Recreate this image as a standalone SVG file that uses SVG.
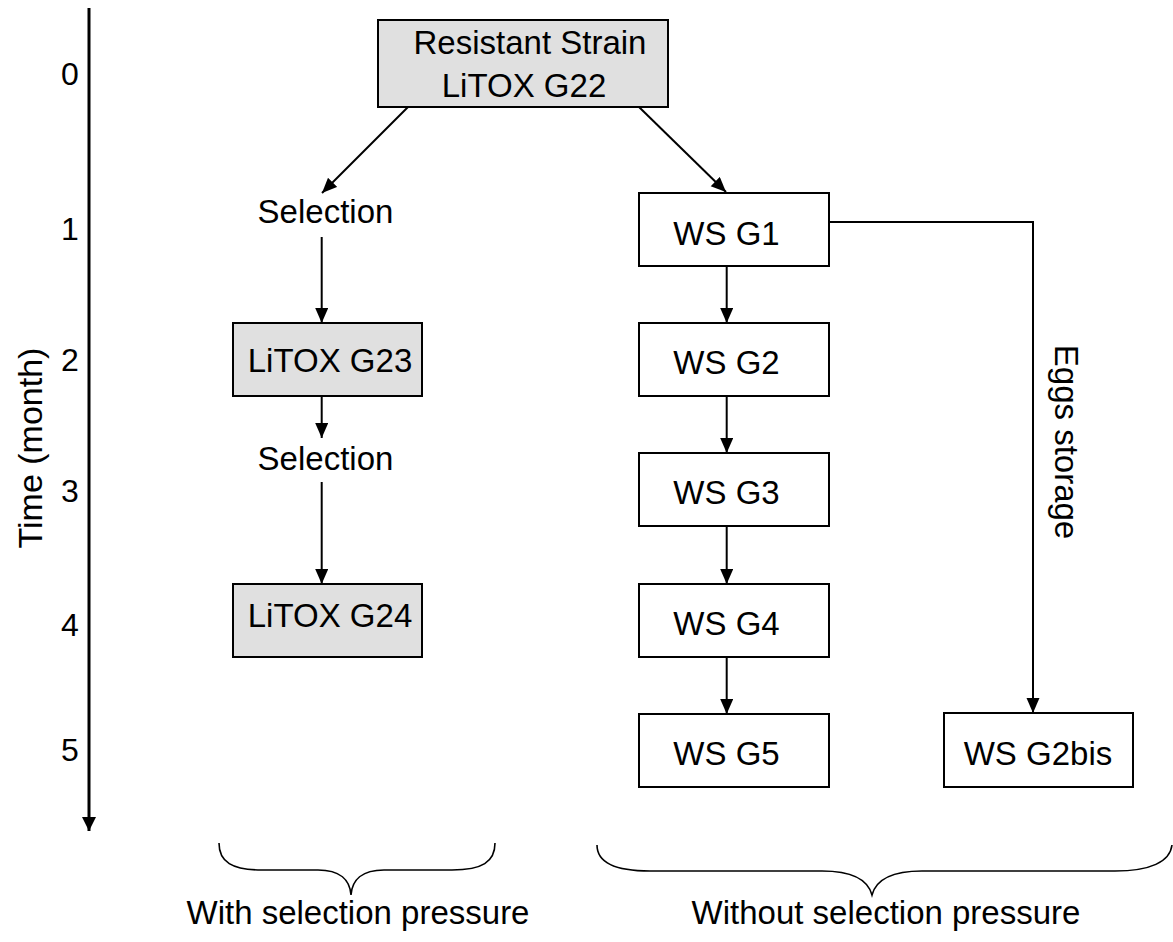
<svg xmlns="http://www.w3.org/2000/svg" width="1173" height="942" viewBox="0 0 1173 942">
<style>
text{font-family:"Liberation Sans",Arial,sans-serif;font-size:33px;fill:#000}
.lbl{text-anchor:middle}
.box{stroke:#000;stroke-width:2;fill:#fff}
.gray{fill:#e0e0e0}
.ln{stroke:#000;stroke-width:2;fill:none}
.num{font-size:32px;text-anchor:middle}
.brace{stroke:#000;stroke-width:1.6;fill:none}
</style>
<defs>
<marker id="ah" markerUnits="userSpaceOnUse" markerWidth="16" markerHeight="14" refX="15" refY="6.5" orient="auto">
<path d="M0,0 L15,6.5 L0,13 z" fill="#000"/>
</marker>
<marker id="axh" markerUnits="userSpaceOnUse" markerWidth="16" markerHeight="16" refX="14" refY="7" orient="auto">
<path d="M0,0 L14,7 L0,14 z" fill="#000"/>
</marker>
</defs>
<rect width="1173" height="942" fill="#fff"/>
<g id="axis">
<line x1="89" y1="8" x2="89" y2="831" stroke="#000" stroke-width="3" marker-end="url(#axh)"/>
<text class="num" x="70" y="85">0</text>
<text class="num" x="70" y="240">1</text>
<text class="num" x="70" y="371">2</text>
<text class="num" x="70" y="502">3</text>
<text class="num" x="70" y="636">4</text>
<text class="num" x="70" y="761">5</text>
<text class="lbl" transform="translate(42,448) rotate(-90)" style="font-size:34px">Time (month)</text>
</g>
<g id="connectors">
<line class="ln" x1="408" y1="107" x2="322" y2="193" marker-end="url(#ah)"/>
<line class="ln" x1="639" y1="107" x2="726" y2="192" marker-end="url(#ah)"/>
<line class="ln" x1="321.7" y1="237" x2="321.7" y2="323" marker-end="url(#ah)"/>
<line class="ln" x1="321.7" y1="396" x2="321.7" y2="438" marker-end="url(#ah)"/>
<line class="ln" x1="321.7" y1="482" x2="321.7" y2="584" marker-end="url(#ah)"/>
<line class="ln" x1="726.7" y1="266" x2="726.7" y2="323" marker-end="url(#ah)"/>
<line class="ln" x1="726.7" y1="396" x2="726.7" y2="453" marker-end="url(#ah)"/>
<line class="ln" x1="726.7" y1="526" x2="726.7" y2="584" marker-end="url(#ah)"/>
<line class="ln" x1="726.7" y1="657" x2="726.7" y2="714" marker-end="url(#ah)"/>
<polyline class="ln" points="829,222 1033,222 1033,713" marker-end="url(#ah)"/>
</g>
<g id="n-g22">
<rect class="box gray" x="378" y="20" width="290" height="87"/>
<text class="lbl" x="530" y="54">Resistant Strain</text>
<text class="lbl" x="524" y="97">LiTOX G22</text>
</g>
<g id="sel1"><text class="lbl" x="325.5" y="223">Selection</text></g>
<g id="n-g23">
<rect class="box gray" x="233" y="323" width="189" height="73"/>
<text class="lbl" x="330" y="372">LiTOX G23</text>
</g>
<g id="sel2"><text class="lbl" x="325.5" y="470">Selection</text></g>
<g id="n-g24">
<rect class="box gray" x="233" y="584" width="189" height="73"/>
<text class="lbl" x="330" y="627">LiTOX G24</text>
</g>
<g id="n-ws1"><rect class="box" x="639" y="193" width="190" height="73"/><text class="lbl" x="726.5" y="245">WS G1</text></g>
<g id="n-ws2"><rect class="box" x="639" y="323" width="190" height="73"/><text class="lbl" x="726.5" y="374">WS G2</text></g>
<g id="n-ws3"><rect class="box" x="639" y="453" width="190" height="73"/><text class="lbl" x="726.5" y="504">WS G3</text></g>
<g id="n-ws4"><rect class="box" x="639" y="584" width="190" height="73"/><text class="lbl" x="726.5" y="635">WS G4</text></g>
<g id="n-ws5"><rect class="box" x="639" y="714" width="190" height="73"/><text class="lbl" x="726.5" y="765">WS G5</text></g>
<g id="n-ws2bis"><rect class="box" x="944" y="713" width="189" height="74"/><text class="lbl" x="1038" y="765">WS G2bis</text></g>
<g id="eggs"><text class="lbl" transform="translate(1055,442) rotate(90)">Eggs storage</text></g>
<g id="brace-left">
<path class="brace" d="M219,843 C219,862 232,870 262,870 L318,870 C340,870 350,880 351,895 C352,880 362,870 384,870 L452,870 C482,870 495,862 495,843"/>
<text class="lbl" x="358" y="924">With selection pressure</text>
</g>
<g id="brace-right">
<path class="brace" d="M597,845 C597,862 614,871 650,871 L822,871 C852,871 868,880 872,895 C876,880 892,871 922,871 L1115,871 C1150,871 1170,862 1172,845"/>
<text class="lbl" x="886" y="924">Without selection pressure</text>
</g>
</svg>
